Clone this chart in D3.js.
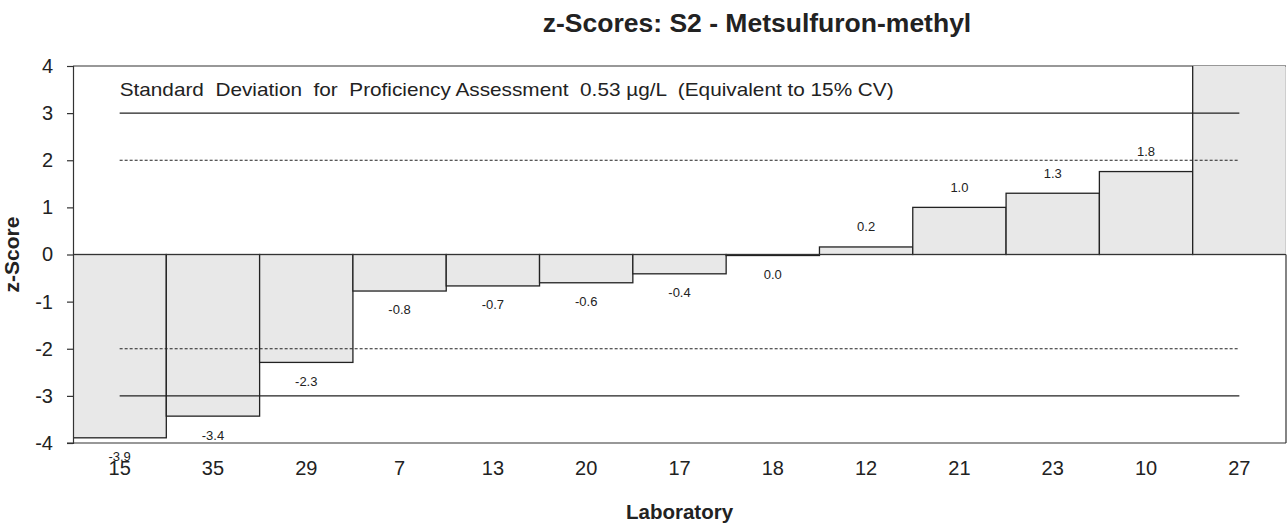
<!DOCTYPE html>
<html>
<head>
<meta charset="utf-8">
<script src="https://cdn.jsdelivr.net/npm/d3@7"></script>
<style>
  body { margin: 0; background: #fff; }
  text { font-family: "Liberation Sans", Arial, sans-serif; fill: #222; }
</style>
</head>
<body>
<script>
// Chart data
var labs = ["15", "35", "29", "7", "13", "20", "17", "18", "12", "21", "23", "10", "27"];
var zScores = [-3.89, -3.43, -2.29, -0.775, -0.667, -0.60, -0.41, -0.02, 0.16, 1.0, 1.30, 1.76, 5.2];
var yTicks = [-4, -3, -2, -1, 0, 1, 2, 3, 4];
var limitLines = [
  { z: 3, dashed: false },
  { z: 2, dashed: true },
  { z: -2, dashed: true },
  { z: -3, dashed: false }
];
var titleText = "z-Scores: S2 - Metsulfuron-methyl";
var noteText = "Standard  Deviation  for  Proficiency Assessment  0.53 \u00b5g/L  (Equivalent to 15% CV)";

(function () {
  var width = 1287, height = 529;
  var left = 73, right = 1286, top = 66, bottom = 443;
  var font = "'Liberation Sans', Arial, sans-serif";

  var svg = d3.select("body").append("svg")
    .attr("width", width)
    .attr("height", height);

  var x = d3.scaleBand().domain(labs).range([left, right]).padding(0);
  var y = d3.scaleLinear().domain([-4, 4]).range([bottom, top]);

  // Clip for the bars (drops the off-scale part of lab 27)
  svg.append("clipPath").attr("id", "plotClip")
    .append("rect")
    .attr("x", left).attr("y", top)
    .attr("width", right - left - 0.7).attr("height", bottom - top);

  // Plot frame: top edge and the lower part of the right edge
  var frame = svg.append("g").attr("stroke", "#333").attr("stroke-width", 1.2);
  frame.append("line").attr("x1", left).attr("x2", right).attr("y1", top).attr("y2", top);
  frame.append("line").attr("x1", right).attr("x2", right).attr("y1", y(0)).attr("y2", bottom);

  // Bars hang from zero
  svg.append("g").attr("clip-path", "url(#plotClip)")
    .selectAll("rect")
    .data(zScores)
    .enter().append("rect")
    .attr("x", function (d, i) { return x(labs[i]); })
    .attr("width", x.bandwidth())
    .attr("y", function (d) { return Math.min(y(d), y(0)); })
    .attr("height", function (d) { return Math.max(Math.abs(y(d) - y(0)), 1); })
    .attr("fill", "#e8e8e8")
    .attr("stroke", "#222")
    .attr("stroke-width", 1.3);

  // Zero line
  svg.append("line")
    .attr("x1", left).attr("x2", right)
    .attr("y1", y(0)).attr("y2", y(0))
    .attr("stroke", "#333").attr("stroke-width", 1.2);

  // Warning / action limits, from first to last category centre
  var cx0 = x(labs[0]) + x.bandwidth() / 2;
  var cx1 = x(labs[labs.length - 1]) + x.bandwidth() / 2;
  svg.append("g").selectAll("line")
    .data(limitLines)
    .enter().append("line")
    .attr("x1", cx0).attr("x2", cx1)
    .attr("y1", function (d) { return y(d.z); })
    .attr("y2", function (d) { return y(d.z); })
    .attr("stroke", "#222")
    .attr("stroke-width", function (d) { return d.dashed ? 1 : 1.2; })
    .attr("stroke-dasharray", function (d) { return d.dashed ? "3,2" : null; });

  // Value labels
  function fmt(v) {
    var s = v.toFixed(1);
    return s === "-0.0" ? "0.0" : s;
  }
  svg.append("g").selectAll("text")
    .data(zScores.filter(function (d) { return d <= 4 && d >= -4.5; }))
    .enter().append("text")
    .attr("x", function (d) { return x(labs[zScores.indexOf(d)]) + x.bandwidth() / 2; })
    .attr("y", function (d) { return d > 0 ? y(d) - 19 : y(d) + 20; })
    .attr("text-anchor", "middle")
    .attr("dominant-baseline", "middle")
    .attr("font-size", 13)
    .text(fmt);

  // Y axis
  var yAxis = svg.append("g")
    .attr("transform", "translate(" + left + ",0)")
    .call(d3.axisLeft(y).tickValues(yTicks).tickSize(6).tickPadding(14)
      .tickFormat(function (d) { return String(d); }));
  yAxis.select(".domain").attr("stroke", "#333").attr("stroke-width", 1.2);
  yAxis.selectAll(".tick line").attr("stroke", "#333").attr("stroke-width", 1.2);
  yAxis.selectAll(".tick text")
    .attr("font-size", 20)
    .style("font-family", font)
    .attr("fill", "#222");

  // Bottom axis line and laboratory labels (no tick marks)
  svg.append("line")
    .attr("x1", left - 6).attr("x2", right)
    .attr("y1", bottom).attr("y2", bottom)
    .attr("stroke", "#333").attr("stroke-width", 1.2);
  var xAxis = svg.append("g")
    .attr("transform", "translate(0," + bottom + ")")
    .call(d3.axisBottom(x).tickSize(0));
  xAxis.select(".domain").remove();
  xAxis.selectAll(".tick text")
    .attr("y", 32)
    .attr("dy", null)
    .attr("font-size", 20)
    .style("font-family", font)
    .attr("fill", "#222");

  // Note inside the plot
  svg.append("text")
    .attr("x", cx0)
    .attr("y", 96)
    .attr("font-size", 19)
    .attr("xml:space", "preserve")
    .style("white-space", "pre")
    .attr("textLength", 774)
    .attr("lengthAdjust", "spacingAndGlyphs")
    .text(noteText);

  // Titles
  svg.append("text")
    .attr("x", 757).attr("y", 32)
    .attr("text-anchor", "middle")
    .attr("font-size", 26.5)
    .attr("font-weight", "bold")
    .text(titleText);

  svg.append("text")
    .attr("x", (left + right) / 2).attr("y", 519)
    .attr("text-anchor", "middle")
    .attr("font-size", 20.5)
    .attr("font-weight", "bold")
    .text("Laboratory");

  svg.append("text")
    .attr("transform", "translate(19," + y(0) + ") rotate(-90)")
    .attr("text-anchor", "middle")
    .attr("font-size", 21)
    .attr("font-weight", "bold")
    .text("z-Score");
})();
</script>
</body>
</html>
